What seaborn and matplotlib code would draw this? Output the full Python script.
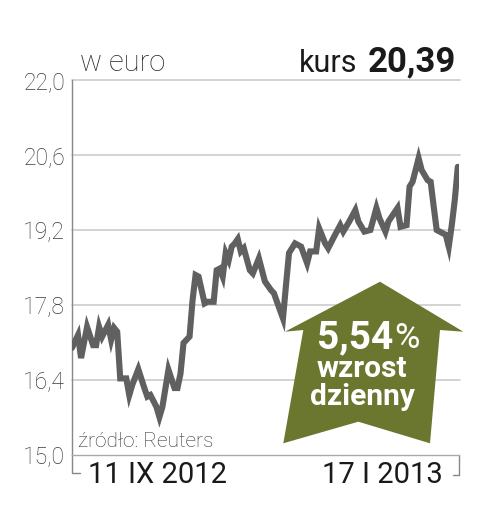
import matplotlib
matplotlib.use('Agg')
import matplotlib.pyplot as plt
import numpy as np
import pandas as pd
import seaborn as sns
from matplotlib.patches import Polygon

# dni od 11 IX 2012 i kurs w euro
dni = [0, 2, 3, 5, 7, 8, 9, 10, 12, 13, 14, 15, 16, 18, 19, 20, 22, 24, 25, 26,
       28, 29, 30, 32, 34, 35, 36, 37, 39, 40, 41, 42, 44, 45, 47, 48, 49, 50, 51, 52,
       53, 54, 55, 56, 57, 59, 60, 62, 64, 66, 67, 68, 70, 71, 72, 74, 76, 78, 79, 81,
       82, 84, 85, 87, 89, 90, 92, 94, 95, 97, 99, 101, 102, 104, 105, 108, 109, 111, 112, 113,
       115, 116, 118, 119, 120, 121, 123, 124, 125, 126, 127, 128]
kurs = [17.00, 17.24, 16.81, 17.39, 17.05, 17.05, 17.39, 17.21, 17.43, 17.15,
        17.37, 17.30, 16.43, 16.43, 16.12, 16.31, 16.60, 16.25, 16.09, 16.12,
        15.90, 15.71, 15.90, 16.59, 16.25, 16.25, 16.52, 17.09, 17.21, 17.89,
        18.36, 18.33, 17.83, 17.86, 17.86, 18.45, 18.48, 18.33, 18.77, 18.64,
        18.89, 18.95, 19.03, 18.80, 18.86, 18.45, 18.39, 18.67, 18.24, 18.08,
        18.02, 17.86, 17.55, 18.17, 18.77, 18.95, 18.89, 18.58, 18.80, 18.80,
        19.23, 18.95, 18.86, 19.08, 19.29, 19.17, 19.36, 19.57, 19.36, 19.17,
        19.20, 19.61, 19.42, 19.17, 19.36, 19.61, 19.26, 19.29, 20.01, 20.10,
        20.54, 20.32, 20.13, 20.10, 19.64, 19.20, 19.14, 19.11, 18.89, 19.29,
        19.76, 20.38]
y_ticks = [15.0, 16.4, 17.8, 19.2, 20.6, 22.0]
y_labels = ['15,0', '16,4', '17,8', '19,2', '20,6', '22,0']
data_od = '11 IX 2012'
data_do = '17 I 2013'
kurs_txt = '20,39'
zmiana_txt = '5,54'

sns.set_style('white')
plt.rcParams['font.family'] = ['Roboto', 'DejaVu Sans']

df = pd.DataFrame({'dzien': dni, 'kurs': kurs})

fig = plt.figure(figsize=(4.8, 5.05), dpi=100)
ax = fig.add_axes([72 / 480, 1 - 455 / 505, 387 / 480, 375 / 505])

sns.lineplot(data=df, x='dzien', y='kurs', ax=ax, color='#606060', linewidth=4.4,
             solid_joinstyle='miter', zorder=3)

ax.set_xlim(0, 128.4)
ax.set_ylim(15.0, 22.0)
ax.set_yticks(y_ticks)
ax.set_yticklabels(y_labels, fontsize=16.5, fontweight='light', color='#3a3a3a')
ax.set_xticks([])
ax.tick_params(axis='y', length=0, pad=5)
ax.set_xlabel('')
ax.set_ylabel('')
for v in y_ticks[1:]:
    ax.axhline(v, color='#cccccc', lw=1.2, zorder=1, xmax=1.003, clip_on=False)
for s in ['top', 'right']:
    ax.spines[s].set_visible(False)
ax.spines['left'].set_color('#888888')
ax.spines['left'].set_linewidth(1.0)
ax.spines['bottom'].set_color('#aaaaaa')
ax.spines['bottom'].set_linewidth(1.0)

# klamra zakresu dat
ax.plot([0, 0, 0.02], [0, -0.048, -0.048], transform=ax.transAxes, color='#888888',
        lw=1.0, clip_on=False)
ax.plot([1, 1, 0.985], [0, -0.053, -0.053], transform=ax.transAxes, color='#888888',
        lw=1.0, clip_on=False)

fig.text(88 / 480, 1 - 483 / 505, data_od, fontsize=21, color='#1a1a1a', va='baseline')
fig.text(443 / 480, 1 - 483 / 505, data_do, fontsize=21, color='#1a1a1a', va='baseline',
         ha='right')
fig.text(78 / 480, 1 - 447 / 505, 'źródło: Reuters', fontsize=15, fontweight='light',
         color='#333333', va='baseline')

fig.text(80 / 480, 1 - 71 / 505, 'w euro', fontsize=21, fontweight='light',
         color='#2a2a2a', va='baseline')
fig.text(357 / 480, 1 - 71.5 / 505, 'kurs', fontsize=22, color='#1a1a1a', va='baseline',
         ha='right')
fig.text(456 / 480, 1 - 71.5 / 505, kurs_txt, fontsize=25, fontweight='bold',
         color='#1a1a1a', va='baseline', ha='right')

# strzalka wzrostu
strzalka_px = [(380, 281.7), (463.3, 331.7), (440, 330), (430, 443.3), (358.3, 421.7),
               (283.3, 443.3), (303.3, 330), (285, 331.7)]
pts = [(x / 480, 1 - y / 505) for x, y in strzalka_px]
fig.patches.append(Polygon(pts, closed=True, transform=fig.transFigure,
                           facecolor='#6b772f', edgecolor='none', zorder=5))

fig.text(393 / 480, 1 - 348 / 505, zmiana_txt, fontsize=28, fontweight='bold',
         color='white', va='baseline', ha='right', zorder=6)
fig.text(394 / 480, 1 - 348 / 505, '%', fontsize=25, color='white', va='baseline',
         ha='left', zorder=6)
fig.text(362 / 480, 1 - 377 / 505, 'wzrost', fontsize=21.5, fontweight='bold',
         color='white', va='baseline', ha='center', zorder=6)
fig.text(362 / 480, 1 - 405 / 505, 'dzienny', fontsize=21.5, fontweight='bold',
         color='white', va='baseline', ha='center', zorder=6)

fig.savefig('out.png', dpi=100, facecolor='white')
